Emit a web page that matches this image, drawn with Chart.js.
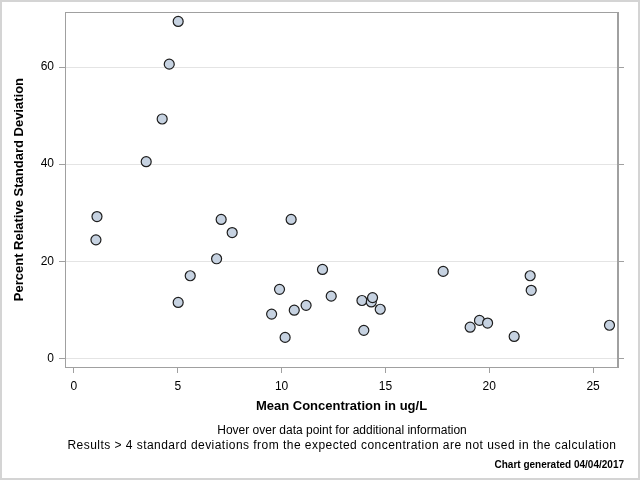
<!DOCTYPE html>
<html>
<head>
<meta charset="utf-8">
<script src="https://cdn.jsdelivr.net/npm/chart.js@4/dist/chart.umd.min.js"></script>
<style>
  html, body { margin: 0; padding: 0; background: #fff; }
  #wrap { position: relative; width: 640px; height: 480px; box-sizing: border-box; border: 2px solid #d4d4d4; }
  canvas { position: absolute; left: -2px; top: -2px; }
</style>
</head>
<body>
<div id="wrap"><canvas id="rsdChart" width="640" height="480"></canvas></div>
<script>
// Mean concentration (ug/L) and percent RSD
const meanConc = [5.02, 4.59, 4.25, 3.48, 1.11, 1.06, 7.09, 7.62, 10.46, 6.87, 5.60, 5.02, 9.90, 9.52, 10.61, 11.18,
  10.17, 11.97, 12.39, 13.87, 13.96, 14.32, 14.38, 14.75, 17.78, 19.08, 19.53, 19.92, 21.20, 21.97, 22.02, 25.79];
const pctRSD = [69.4, 60.6, 49.3, 40.5, 29.2, 24.4, 28.6, 25.9, 28.6, 20.5, 17.0, 11.5, 14.2, 9.1, 9.9, 10.9,
  4.3, 18.3, 12.8, 11.9, 5.75, 11.6, 12.5, 10.1, 17.9, 6.4, 7.8, 7.25, 4.5, 17.0, 14.0, 6.8];

const xTitle = "Mean Concentration in ug/L";
const yTitle = "Percent Relative Standard Deviation";
const footnotes = [
  "Hover over data point for additional information",
  "Results > 4 standard deviations from the expected concentration are not used in the calculation",
];
const generatedNote = "Chart generated 04/04/2017";

const axisGray = "#a0a0a0";
const font = "'Liberation Sans', Arial, sans-serif";

const points = meanConc.map((x, i) => ({ x: x, y: pctRSD[i] }));

// frame round the plot area plus the footnotes
const frameAndNotes = {
  id: "frameAndNotes",
  afterDraw(chart) {
    const { ctx, chartArea: a } = chart;
    ctx.save();
    ctx.strokeStyle = axisGray;
    ctx.lineWidth = 1;
    ctx.strokeRect(Math.round(a.left) + 0.5, Math.round(a.top) + 0.5,
      Math.round(a.right - a.left) - 1, Math.round(a.bottom - a.top));
    ctx.fillStyle = "#000";
    ctx.textAlign = "center";
    ctx.textBaseline = "middle";
    ctx.font = "12px " + font;
    ctx.fillText(footnotes[0], 342, 431);
    ctx.letterSpacing = "0.46px";
    ctx.fillText(footnotes[1], 342, 446);
    ctx.letterSpacing = "0px";
    ctx.textAlign = "right";
    ctx.font = "bold 10px " + font;
    ctx.fillText(generatedNote, 624, 465);
    ctx.restore();
  },
};

new Chart(document.getElementById("rsdChart"), {
  type: "scatter",
  data: {
    datasets: [
      {
        data: points,
        backgroundColor: "#c6d2e1",
        borderColor: "#1e1e1e",
        borderWidth: 1.2,
        pointRadius: 5,
        pointHoverRadius: 6,
      },
    ],
  },
  options: {
    responsive: false,
    animation: false,
    layout: { padding: { top: 11, left: 0, right: 0, bottom: 0 } },
    plugins: {
      legend: { display: false },
      tooltip: { enabled: true },
    },
    scales: {
      x: {
        type: "linear",
        position: "bottom",
        min: -0.43,
        max: 26.2,
        ticks: { stepSize: 5, includeBounds: false, color: "#000", padding: 6, font: { family: font, size: 12 } },
        grid: { drawOnChartArea: false, tickLength: 6, color: axisGray, tickColor: axisGray },
        border: { color: axisGray },
        title: {
          display: true,
          text: xTitle,
          color: "#000",
          font: { family: font, size: 13, weight: "bold" },
          padding: { top: 0, bottom: 66 },
        },
        afterFit(scale) { scale.height = 113; },
      },
      y: {
        type: "linear",
        position: "left",
        min: -1.8,
        max: 71.3,
        ticks: { stepSize: 20, includeBounds: false, color: "#000", padding: 5, font: { family: font, size: 12 } },
        grid: { color: "#e4e4e4", tickLength: 6, tickColor: axisGray },
        border: { color: axisGray },
        title: {
          display: true,
          text: yTitle,
          color: "#000",
          font: { family: font, size: 13, weight: "bold" },
          padding: { top: 12, bottom: 0 },
        },
        afterFit(scale) { scale.width = 65; },
      },
      y2: {
        type: "linear",
        position: "right",
        min: -1.8,
        max: 71.3,
        ticks: { stepSize: 20, includeBounds: false, display: false },
        grid: { drawOnChartArea: false, tickLength: 6, color: axisGray, tickColor: axisGray },
        border: { color: axisGray },
        afterFit(scale) { scale.width = 22; },
      },
    },
  },
  plugins: [frameAndNotes],
});
</script>
</body>
</html>
